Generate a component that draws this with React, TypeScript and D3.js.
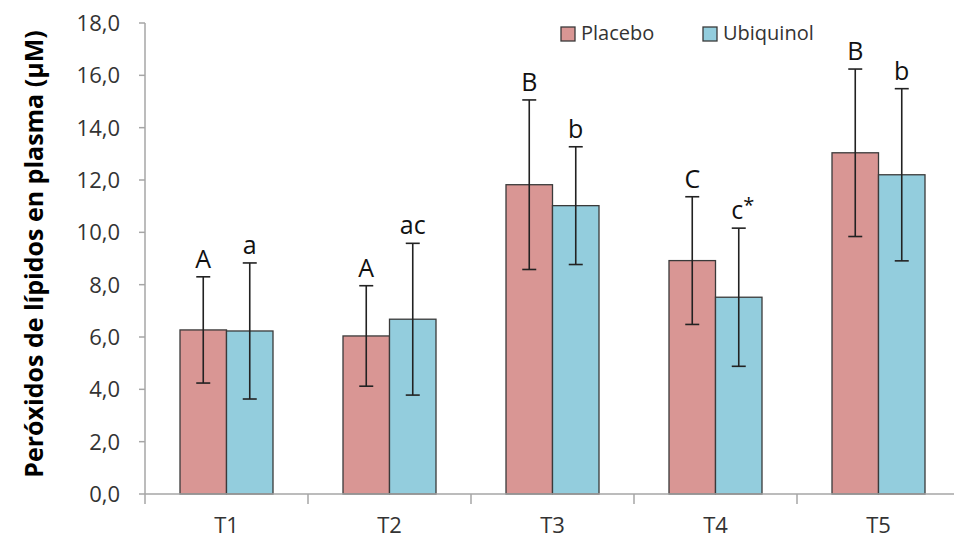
import React from "react";
import * as d3 from "d3";

// Plasma lipid peroxides by time point, two treatment groups
const timepoints = ["T1", "T2", "T3", "T4", "T5"];
const series = ["Placebo", "Ubiquinol"];
const placeboMean = [6.27, 6.04, 11.82, 8.92, 13.04];
const placeboSD = [2.03, 1.92, 3.24, 2.44, 3.2];
const ubiquinolMean = [6.23, 6.68, 11.02, 7.52, 12.2];
const ubiquinolSD = [2.6, 2.9, 2.25, 2.64, 3.29];
const placeboLetters = ["A", "A", "B", "C", "B"];
const ubiquinolLetters = ["a", "ac", "b", "c*", "b"];
const yTicks = [0, 2, 4, 6, 8, 10, 12, 14, 16, 18];

const W = 954;
const H = 539;
const colors = ["#D99694", "#93CDDD"];
const FONT = "'Open Sans', 'Liberation Sans', sans-serif";

export default function App() {
  const left = 145;
  const bandW = 163;
  const x = d3
    .scaleBand<string>()
    .domain(timepoints)
    .range([left, left + bandW * timepoints.length])
    .padding(0);
  const y = d3.scaleLinear().domain([0, 18]).range([494, 23]);
  const barW = 46.5;
  const fmt = (v: number) => d3.format(".1f")(v).replace(".", ",");

  const groups = [
    { mean: placeboMean, sd: placeboSD, letters: placeboLetters, offset: -barW },
    { mean: ubiquinolMean, sd: ubiquinolSD, letters: ubiquinolLetters, offset: 0 },
  ];

  const axisColor = "#A6A6A6";

  return (
    <svg
      width={W}
      height={H}
      style={{ position: "absolute", left: 0, top: 0, background: "#fff" }}
      fontFamily={FONT}
    >
      {/* bars */}
      {groups.map((g, si) =>
        timepoints.map((t, i) => {
          const cx = (x(t) as number) + x.bandwidth() / 2;
          const bx = cx + g.offset;
          return (
            <rect
              key={`b${si}${i}`}
              x={bx}
              y={y(g.mean[i])}
              width={barW}
              height={y(0) - y(g.mean[i])}
              fill={colors[si]}
              stroke="#3a3a3a"
              strokeWidth={1.3}
            />
          );
        })
      )}

      {/* y axis */}
      <line x1={left} x2={left} y1={y(18)} y2={y(0)} stroke={axisColor} strokeWidth={1.5} />
      {yTicks.map((v) => (
        <g key={`yt${v}`}>
          <line x1={left - 6} x2={left} y1={y(v)} y2={y(v)} stroke={axisColor} strokeWidth={1.5} />
          <text
            x={120}
            y={y(v)}
            dy="0.36em"
            textAnchor="end"
            fontSize={22}
            fill="#333"
          >
            {fmt(v)}
          </text>
        </g>
      ))}

      {/* x axis */}
      <line x1={left} x2={W} y1={y(0)} y2={y(0)} stroke={axisColor} strokeWidth={1.5} />
      {d3.range(timepoints.length + 1).map((k) => (
        <line
          key={`xt${k}`}
          x1={left + k * bandW}
          x2={left + k * bandW}
          y1={y(0)}
          y2={y(0) + 10}
          stroke={axisColor}
          strokeWidth={1.5}
        />
      ))}
      {timepoints.map((t) => (
        <text
          key={`xl${t}`}
          x={(x(t) as number) + x.bandwidth() / 2}
          y={533}
          textAnchor="middle"
          fontSize={22}
          fill="#333"
        >
          {t}
        </text>
      ))}

      {/* error bars and letters */}
      {groups.map((g, si) =>
        timepoints.map((t, i) => {
          const cx = (x(t) as number) + x.bandwidth() / 2 + g.offset + barW / 2;
          const hi = y(g.mean[i] + g.sd[i]);
          const lo = y(g.mean[i] - g.sd[i]);
          const letter = g.letters[i];
          const star = letter.endsWith("*");
          return (
            <g key={`e${si}${i}`}>
              <line x1={cx} x2={cx} y1={hi} y2={lo} stroke="#222" strokeWidth={1.6} />
              <line x1={cx - 7} x2={cx + 7} y1={hi} y2={hi} stroke="#222" strokeWidth={1.6} />
              <line x1={cx - 7} x2={cx + 7} y1={lo} y2={lo} stroke="#222" strokeWidth={1.6} />
              <text
                x={cx + (star ? 4 : 0)}
                y={hi - 9}
                textAnchor="middle"
                fontSize={25}
                fill="#111"
              >
                {star ? letter.slice(0, -1) : letter}
                {star ? (
                  <tspan fontSize={20} dy={-7}>
                    *
                  </tspan>
                ) : null}
              </text>
            </g>
          );
        })
      )}

      {/* legend */}
      {series.map((s, si) => {
        const lx = [561, 703][si];
        return (
          <g key={`lg${s}`}>
            <rect x={lx} y={27} width={14} height={14} fill={colors[si]} stroke="#3a3a3a" strokeWidth={1.3} />
            <text x={lx + 20} y={40} fontSize={20} fill="#333">
              {s}
            </text>
          </g>
        );
      })}

      {/* y axis title */}
      <text
        transform={`translate(34, ${254}) rotate(-90)`}
        textAnchor="middle"
        dy="0.36em"
        fontSize={25}
        fontWeight="bold"
        fill="#000"
      >
        Peróxidos de lípidos en plasma (µM)
      </text>
    </svg>
  );
}
